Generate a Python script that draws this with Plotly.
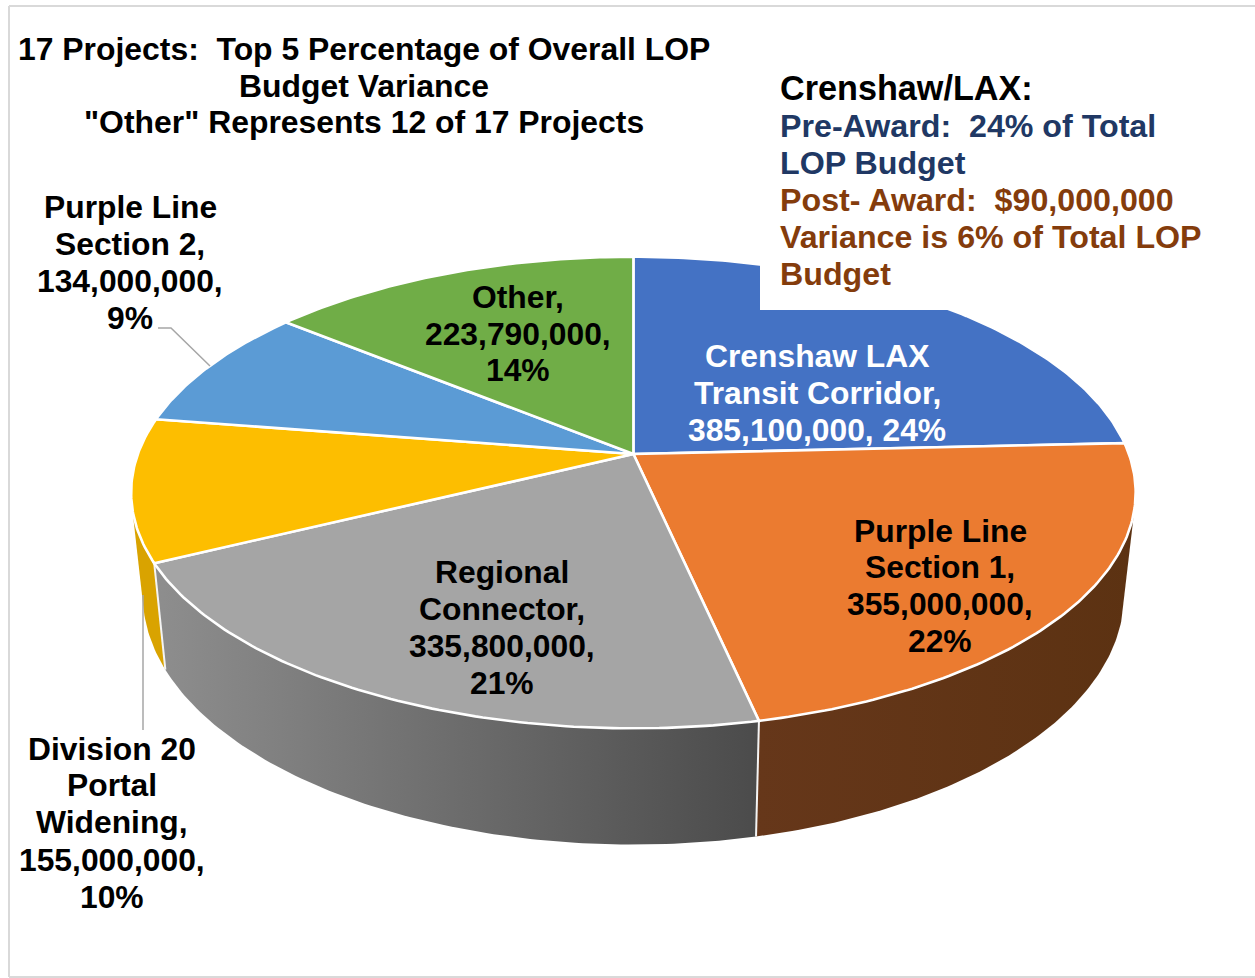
import math
import plotly.graph_objects as go

# ---------- data ----------
categories = ["Crenshaw LAX Transit Corridor", "Purple Line Section 1", "Regional Connector",
              "Division 20 Portal Widening", "Purple Line Section 2", "Other"]
values = [385100000, 355000000, 335800000, 155000000, 134000000, 223790000]
percent_labels = [24, 22, 21, 10, 9, 14]
top_colors = ["#4472C4", "#EB7B30", "#A5A5A5", "#FDBE00", "#5B9BD5", "#70AD47"]
wall_colors = [("#2f5597", "#2f5597"), ("#66371a", "#5c3212"), ("#8e8e8e", "#4b4b4b"),
               ("#d9a300", "#d9a300"), ("#3f78ad", "#3f78ad"), ("#4f7d32", "#4f7d32")]
title_lines = ["17 Projects:\u00a0\u00a0Top 5 Percentage of Overall LOP", "Budget Variance",
               '"Other" Represents 12 of 17 Projects']
note_lines = [("Crenshaw/LAX:", "#000000", 34.2), ("Pre-Award:\u00a0\u00a024% of Total", "#203864", 32.2),
              ("LOP Budget", "#203864", 32.2), ("Post- Award:\u00a0\u00a0$90,000,000", "#843C0C", 32.2),
              ("Variance is 6% of Total LOP", "#843C0C", 32.2), ("Budget", "#843C0C", 32.2)]
label_name_lines = [["Crenshaw LAX", "Transit Corridor,"], ["Purple Line", "Section 1,"],
                    ["Regional", "Connector,"], ["Division 20", "Portal", "Widening,"],
                    ["Purple Line", "Section 2,"], ["Other,"]]
label_one_row = [True, False, False, False, False, False]
label_colors = ["#ffffff", "#000000", "#000000", "#000000", "#000000", "#000000"]

# ---------- layout / projection ----------
W, H = 1255, 978
CX = 633.4
TOP = dict(cy=454, a=495.5, b=229.5, k=0.1635)
BOT = dict(cy=554, a=484, b=243, k=0.1635)
label_x = [817, 940, 502, 112, 130, 518]
label_y = [[356, 393, 430], [531, 567, 604, 641], [572, 609, 646, 683],
           [749, 785, 822, 860, 897], [207, 244, 281, 318], [297, 334, 370]]
title_x, title_y = 364, [49, 86, 122]
note_x, note_y = 777.5, [88, 126, 163, 200, 237, 274]
FONT = "Liberation Sans"


def project(theta, plane):
    X, Y = math.sin(theta), math.cos(theta)
    w = 1 + plane["k"] * Y
    return CX + plane["a"] * X / w, plane["cy"] - plane["b"] * Y / w


def arc(t0, t1, plane):
    n = max(2, int(abs(t1 - t0) / math.radians(0.75)))
    return [project(t0 + (t1 - t0) * i / n, plane) for i in range(n + 1)]


def hull(points):
    pts = sorted(set(points))

    def half(seq):
        out = []
        for p in seq:
            while len(out) > 1 and ((out[-1][0] - out[-2][0]) * (p[1] - out[-2][1])
                                    - (out[-1][1] - out[-2][1]) * (p[0] - out[-2][0])) <= 0:
                out.pop()
            out.append(p)
        return out

    lo, up = half(pts), half(pts[::-1])
    return lo[:-1] + up[:-1]


total = sum(values)
bounds = [0.0]
for v in values:
    bounds.append(bounds[-1] + v / total * 2 * math.pi)

fig = go.Figure()

# walls, back to front
order = sorted(range(len(values)), key=lambda i: math.cos((bounds[i] + bounds[i + 1]) / 2), reverse=True)
for i in order:
    t0, t1 = bounds[i], bounds[i + 1]
    poly = hull(arc(t0, t1, TOP) + arc(t0, t1, BOT))
    poly.append(poly[0])
    c0, c1 = wall_colors[i]
    fig.add_trace(go.Scatter(
        x=[p[0] for p in poly], y=[p[1] for p in poly], mode="lines", fill="toself",
        line=dict(width=0, color=c0), hoverinfo="skip", showlegend=False,
        fillgradient=dict(type="horizontal", colorscale=[[0, c0], [1, c1]])))

# white rulings between front walls
for b in bounds[1:-1]:
    if math.cos(b) < 0:
        a, c = project(b, TOP), project(b, BOT)
        fig.add_trace(go.Scatter(x=[a[0], c[0]], y=[a[1], c[1]], mode="lines",
                                 line=dict(color="#f4f4f4", width=2), hoverinfo="skip", showlegend=False))

# top faces
for i in range(len(values)):
    pts = [project(0, dict(TOP, a=0, b=0))] + arc(bounds[i], bounds[i + 1], TOP)
    pts.append(pts[0])
    fig.add_trace(go.Scatter(
        x=[p[0] for p in pts], y=[p[1] for p in pts], mode="lines", fill="toself",
        fillcolor=top_colors[i], line=dict(color="#ffffff", width=2.6),
        hoverinfo="skip", showlegend=False, name=categories[i]))

# leader lines
fig.add_trace(go.Scatter(x=[158, 171, 210], y=[328, 328, 366], mode="lines",
                         line=dict(color="#a6a6a6", width=1.5), hoverinfo="skip", showlegend=False))
fig.add_trace(go.Scatter(x=[143, 143], y=[730, 595], mode="lines",
                         line=dict(color="#a6a6a6", width=1.5), hoverinfo="skip", showlegend=False))

ann = []


def add_text(x, y, text, color="#000000", size=31.8, anchor="center"):
    ann.append(dict(x=x, y=y, xref="x", yref="y", text=f"<b>{text}</b>", showarrow=False,
                    xanchor=anchor, yanchor="middle", align=anchor,
                    font=dict(family=FONT, size=size, color=color)))


for yy, t in zip(title_y, title_lines):
    add_text(title_x, yy, t, size=31.9)
for yy, (t, c, s) in zip(note_y, note_lines):
    add_text(note_x, yy, t, color=c, size=s, anchor="left")
for i in range(len(values)):
    rows = list(label_name_lines[i])
    if label_one_row[i]:
        rows.append(f"{values[i]:,}, {percent_labels[i]}%")
    else:
        rows += [f"{values[i]:,},", f"{percent_labels[i]}%"]
    for yy, t in zip(label_y[i], rows):
        add_text(label_x[i], yy, t, color=label_colors[i])

border = "#d9d9d9"
shapes = [
    dict(type="rect", x0=760, x1=1215, y0=65, y1=310, xref="x", yref="y",
         fillcolor="#ffffff", line=dict(width=0), layer="above"),
    dict(type="line", x0=9, x1=9, y0=6, y1=977, xref="x", yref="y", line=dict(color=border, width=2), layer="above"),
    dict(type="line", x0=9, x1=W, y0=6, y1=6, xref="x", yref="y", line=dict(color=border, width=2), layer="above"),
    dict(type="line", x0=9, x1=W, y0=977, y1=977, xref="x", yref="y", line=dict(color=border, width=2), layer="above"),
]

fig.update_layout(
    width=W, height=H, margin=dict(l=0, r=0, t=0, b=0), paper_bgcolor="#ffffff", plot_bgcolor="#ffffff",
    xaxis=dict(range=[0, W], visible=False, fixedrange=True),
    yaxis=dict(range=[H, 0], visible=False, fixedrange=True),
    annotations=ann, shapes=shapes, showlegend=False)

fig.write_html("out.html", config=dict(displayModeBar=False),
               post_script="document.body.style.margin='0';document.body.style.overflow='hidden';")
